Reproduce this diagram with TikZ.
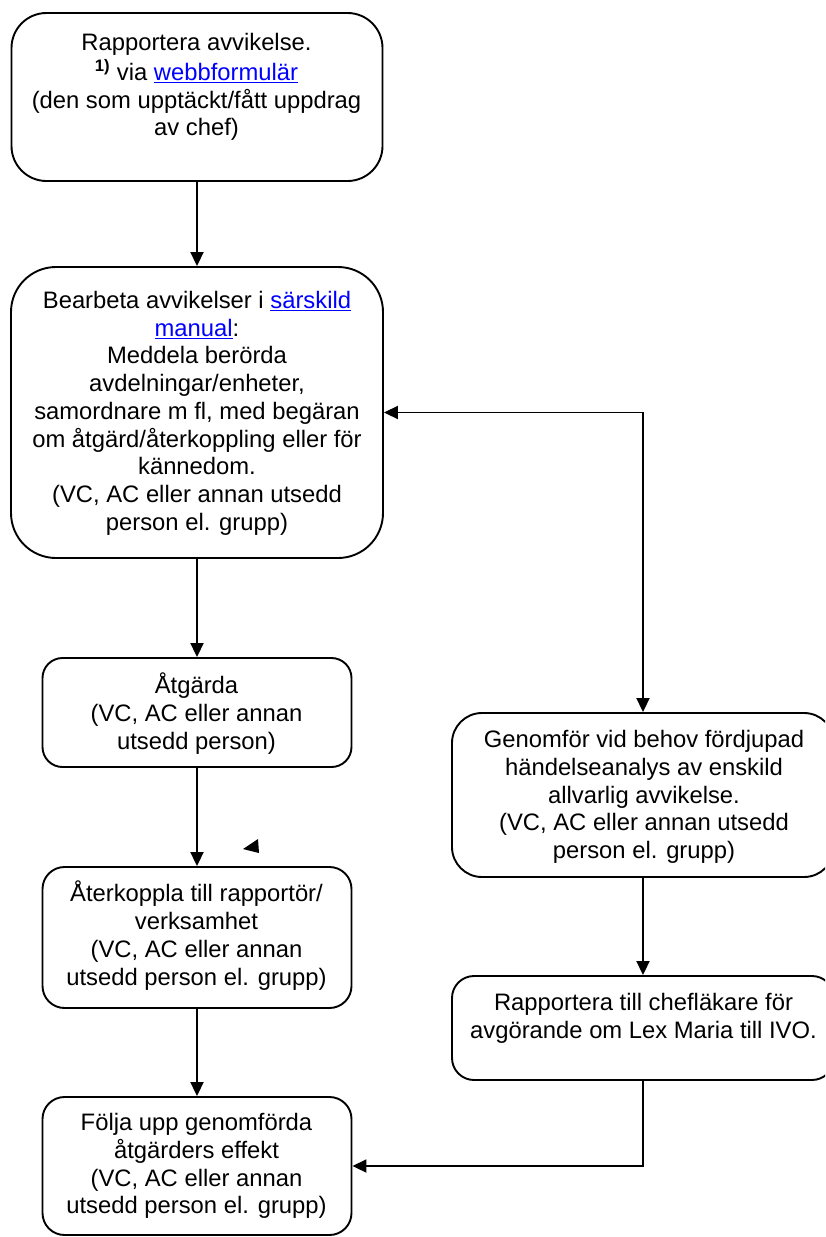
\documentclass[tikz,border=0pt]{standalone}
\usepackage{fontspec}
\setmainfont{Liberation Sans}
\usetikzlibrary{arrows.meta}
\definecolor{linkblue}{RGB}{0,0,255}
\newcommand{\lnk}[1]{\textcolor{linkblue}{\underline{#1}}}
\begin{document}
\begin{tikzpicture}[x=1pt,y=-1pt,
  box/.style={draw, line width=1.9pt, rectangle, inner sep=0pt},
  txt/.style={anchor=north, align=center, inner sep=0pt, font=\fontsize{23.8pt}{27.7pt}\selectfont},
  arr/.style={line width=1.9pt, -{Triangle[length=14pt,width=13pt]}},
  darr/.style={line width=1.9pt, {Triangle[length=14pt,width=13pt]}-{Triangle[length=14pt,width=13pt]}}]
\clip (0,0) rectangle (825,1237);
% boxes
\node[box, rounded corners=35pt, minimum width=371pt, minimum height=168pt] (A) at (197,97) {};
\node[box, rounded corners=45pt, minimum width=372pt, minimum height=291pt] (B) at (197,412.5) {};
\node[box, rounded corners=20pt, minimum width=309pt, minimum height=109pt] (C) at (197,712.5) {};
\node[box, rounded corners=22pt, minimum width=309pt, minimum height=141pt] (D) at (197,937.5) {};
\node[box, rounded corners=22pt, minimum width=309pt, minimum height=138pt] (E) at (197,1166) {};
\node[box, rounded corners=30pt, minimum width=382pt, minimum height=164pt] (F) at (643,795) {};
\node[box, rounded corners=22pt, minimum width=382pt, minimum height=104pt] (G) at (643,1028) {};
% texts
\node[txt] (At) at (196.5,30.5) {\strut Rapportera avvikelse.\\ \textsuperscript{\bfseries 1)} via \lnk{webbformulär}\\ (den som upptäckt/fått uppdrag\\ av chef)};
\node[txt] (Bt) at (197,289) {\strut Bearbeta avvikelser i \lnk{särskild}\\ \lnk{manual}:\\ Meddela berörda\\ avdelningar/enheter,\\ samordnare m fl, med begäran\\ om åtgärd/återkoppling eller för\\ kännedom.\\ (VC, AC eller annan utsedd\\ person el. grupp)};
\node[txt] (Ct) at (196.5,673) {\strut Åtgärda\\ (VC, AC eller annan\\ utsedd person)};
\node[txt] (Dt) at (196.5,881) {\strut Återkoppla till rapportör/\\ verksamhet\\ (VC, AC eller annan\\ utsedd person el. grupp)};
\node[txt] (Et) at (196.5,1111) {\strut Följa upp genomförda\\ åtgärders effekt\\ (VC, AC eller annan\\ utsedd person el. grupp)};
\node[txt] (Ft) at (644,728) {\strut Genomför vid behov fördjupad\\ händelseanalys av enskild\\ allvarlig avvikelse.\\ (VC, AC eller annan utsedd\\ person el. grupp)};
\node[txt] (Gt) at (643.5,991) {\strut Rapportera till chefläkare för\\ avgörande om Lex Maria till IVO.};
% connectors
\draw[arr] (A.south) -- (B.north);
\draw[arr] (B.south) -- (C.north);
\draw[arr] (C.south) -- (D.north);
\draw[arr] (D.south) -- (E.north);
\draw[arr] (F.south) -- (G.north);
\draw[arr] (G.south) |- (E.east);
\draw[darr] (B.east) -| (F.north);
% stray arrowhead
\fill (243,849) -- (258,839) -- (259,853) -- cycle;
\end{tikzpicture}
\end{document}
